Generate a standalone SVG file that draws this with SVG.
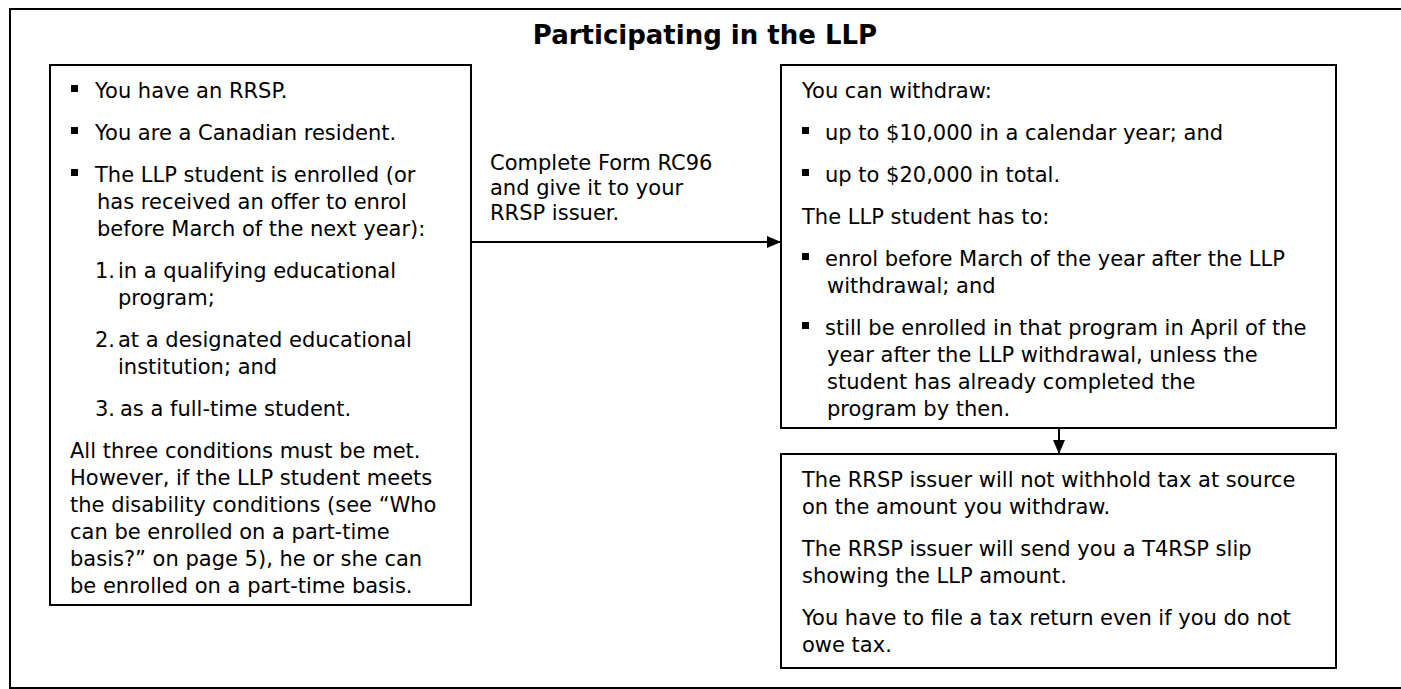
<svg xmlns="http://www.w3.org/2000/svg" width="1401" height="689" viewBox="0 0 1401 689">
<style>
.box{fill:#fff;stroke:#000;stroke-width:2}
.t{font-family:"DejaVu Sans","Liberation Sans",sans-serif;font-size:21px;fill:#000}
.title{font-family:"DejaVu Sans","Liberation Sans",sans-serif;font-size:26px;font-weight:bold;fill:#000}
.bul{fill:#000}
.conn{stroke:#000;stroke-width:2;fill:none}
</style>
<defs>
<marker id="ah" viewBox="0 0 14 12" refX="14" refY="6" markerWidth="14" markerHeight="12" markerUnits="userSpaceOnUse" orient="auto">
<path d="M0,0 L14,6 L0,12 Z" fill="#000"/>
</marker>
</defs>
<rect x="0" y="0" width="1401" height="689" fill="#fff"/>
<rect id="frame" x="10" y="9" width="1400" height="679" fill="none" stroke="#000" stroke-width="2"/>
<text class="title" x="705" y="44" text-anchor="middle">Participating in the LLP</text>

<g id="conditions">
<rect class="box" x="50" y="65" width="421" height="540"/>
<rect class="bul" x="71" y="85" width="7" height="7"/>
<text class="t" x="95" y="98">You have an RRSP.</text>
<rect class="bul" x="71" y="127" width="7" height="7"/>
<text class="t" x="95" y="140">You are a Canadian resident.</text>
<rect class="bul" x="71" y="169" width="7" height="7"/>
<text class="t" x="95" y="182">The LLP student is enrolled (or</text>
<text class="t" x="97" y="209">has received an offer to enrol</text>
<text class="t" x="97" y="236">before March of the next year):</text>
<text class="t" x="95" y="278">1.</text>
<text class="t" x="118" y="278">in a qualifying educational</text>
<text class="t" x="118" y="305">program;</text>
<text class="t" x="95" y="347">2.</text>
<text class="t" x="118" y="347">at a designated educational</text>
<text class="t" x="118" y="374">institution; and</text>
<text class="t" x="95" y="416">3.</text>
<text class="t" x="120" y="416">as a full-time student.</text>
<text class="t" x="70" y="458">All three conditions must be met.</text>
<text class="t" x="70" y="485">However, if the LLP student meets</text>
<text class="t" x="70" y="512">the disability conditions (see “Who</text>
<text class="t" x="70" y="539">can be enrolled on a part-time</text>
<text class="t" x="70" y="566">basis?” on page 5), he or she can</text>
<text class="t" x="70" y="593">be enrolled on a part-time basis.</text>
</g>

<g id="withdraw">
<rect class="box" x="781" y="65" width="555" height="363"/>
<text class="t" x="802" y="98">You can withdraw:</text>
<rect class="bul" x="802" y="127" width="7" height="7"/>
<text class="t" x="825" y="140">up to $10,000 in a calendar year; and</text>
<rect class="bul" x="802" y="169" width="7" height="7"/>
<text class="t" x="825" y="182">up to $20,000 in total.</text>
<text class="t" x="802" y="224">The LLP student has to:</text>
<rect class="bul" x="802" y="253" width="7" height="7"/>
<text class="t" x="825" y="266">enrol before March of the year after the LLP</text>
<text class="t" x="827" y="293">withdrawal; and</text>
<rect class="bul" x="802" y="322" width="7" height="7"/>
<text class="t" x="825" y="335">still be enrolled in that program in April of the</text>
<text class="t" x="827" y="362">year after the LLP withdrawal, unless the</text>
<text class="t" x="827" y="389">student has already completed the</text>
<text class="t" x="827" y="416">program by then.</text>
</g>

<g id="issuer">
<rect class="box" x="781" y="454" width="555" height="214"/>
<text class="t" x="802" y="487">The RRSP issuer will not withhold tax at source</text>
<text class="t" x="802" y="514">on the amount you withdraw.</text>
<text class="t" x="802" y="556">The RRSP issuer will send you a T4RSP slip</text>
<text class="t" x="802" y="583">showing the LLP amount.</text>
<text class="t" x="802" y="625">You have to file a tax return even if you do not</text>
<text class="t" x="802" y="652">owe tax.</text>
</g>

<g id="connectors">
<line class="conn" x1="471" y1="242" x2="781" y2="242" marker-end="url(#ah)"/>
<text class="t" x="490" y="170">Complete Form RC96</text>
<text class="t" x="490" y="195">and give it to your</text>
<text class="t" x="490" y="220">RRSP issuer.</text>
<line class="conn" x1="1059" y1="428" x2="1059" y2="454" marker-end="url(#ah)"/>
</g>
</svg>
